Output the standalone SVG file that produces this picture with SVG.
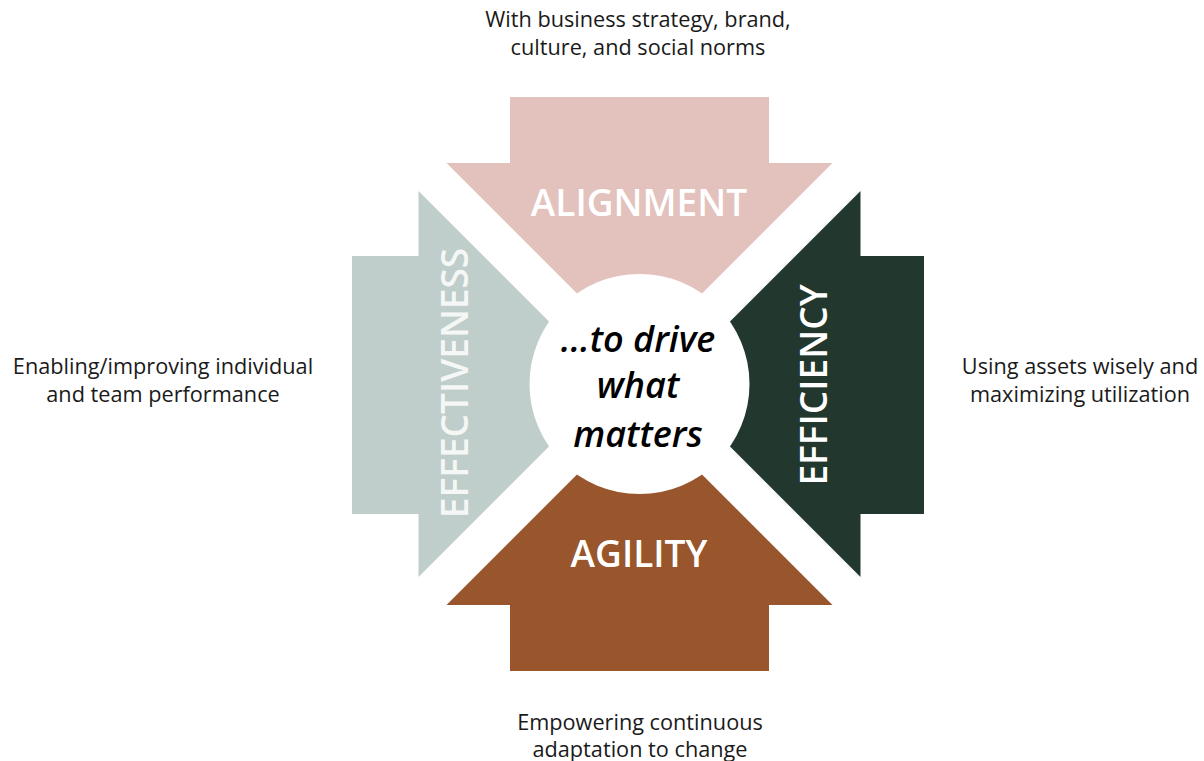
<svg xmlns="http://www.w3.org/2000/svg" width="1204" height="761" viewBox="0 0 1204 761">
<style>
.cap{font-family:"Open Sans","Noto Sans","Liberation Sans",sans-serif;fill:#ffffff;text-anchor:middle;font-size:37px;font-weight:600}
.note{font-family:"Open Sans","Noto Sans","Liberation Sans",sans-serif;fill:#1a1a1a;text-anchor:middle;font-size:21.7px}
.hub{font-family:"Open Sans","Noto Sans","Liberation Sans",sans-serif;fill:#000000;text-anchor:middle;font-size:36px;font-weight:600;font-style:italic}
</style>
<rect width="1204" height="761" fill="#ffffff"/>
<g id="connectors"></g>
<g id="alignment">
<polygon points="510,97 769,97 769,163 832.5,163 639.5,356 446.5,163 510,163" fill="#E3C2BE"/>
<text class="cap" x="639" y="216">ALIGNMENT</text>
</g>
<g id="agility">
<polygon points="510,671 769,671 769,605 832.5,605 639.5,412 446.5,605 510,605" fill="#99552C"/>
<text class="cap" x="639" y="567">AGILITY</text>
</g>
<g id="effectiveness">
<polygon points="352,256 352,514 418.5,514 418.5,577 611.5,384 418.5,191 418.5,256" fill="#BFCECA"/>
<text class="cap" transform="translate(468,383) rotate(-90)" fill-opacity="0.85">EFFECTIVENESS</text>
</g>
<g id="efficiency">
<polygon points="924,256 924,514 860.5,514 860.5,577 667.5,384 860.5,191 860.5,256" fill="#22372E"/>
<text class="cap" transform="translate(827,385) rotate(-90)">EFFICIENCY</text>
</g>
<g id="center">
<circle cx="639.5" cy="384" r="110" fill="#ffffff"/>
<text class="hub" x="638" y="352">...to drive</text>
<text class="hub" x="638" y="398">what</text>
<text class="hub" x="638" y="447">matters</text>
</g>
<g id="note-top">
<text class="note" x="638" y="27">With business strategy, brand,</text>
<text class="note" x="638" y="55">culture, and social norms</text>
</g>
<g id="note-left">
<text class="note" x="163" y="374">Enabling/improving individual</text>
<text class="note" x="163" y="402">and team performance</text>
</g>
<g id="note-right">
<text class="note" x="1080" y="374">Using assets wisely and</text>
<text class="note" x="1080" y="402">maximizing utilization</text>
</g>
<g id="note-bottom">
<text class="note" x="640" y="730">Empowering continuous</text>
<text class="note" x="640" y="757">adaptation to change</text>
</g>
</svg>
